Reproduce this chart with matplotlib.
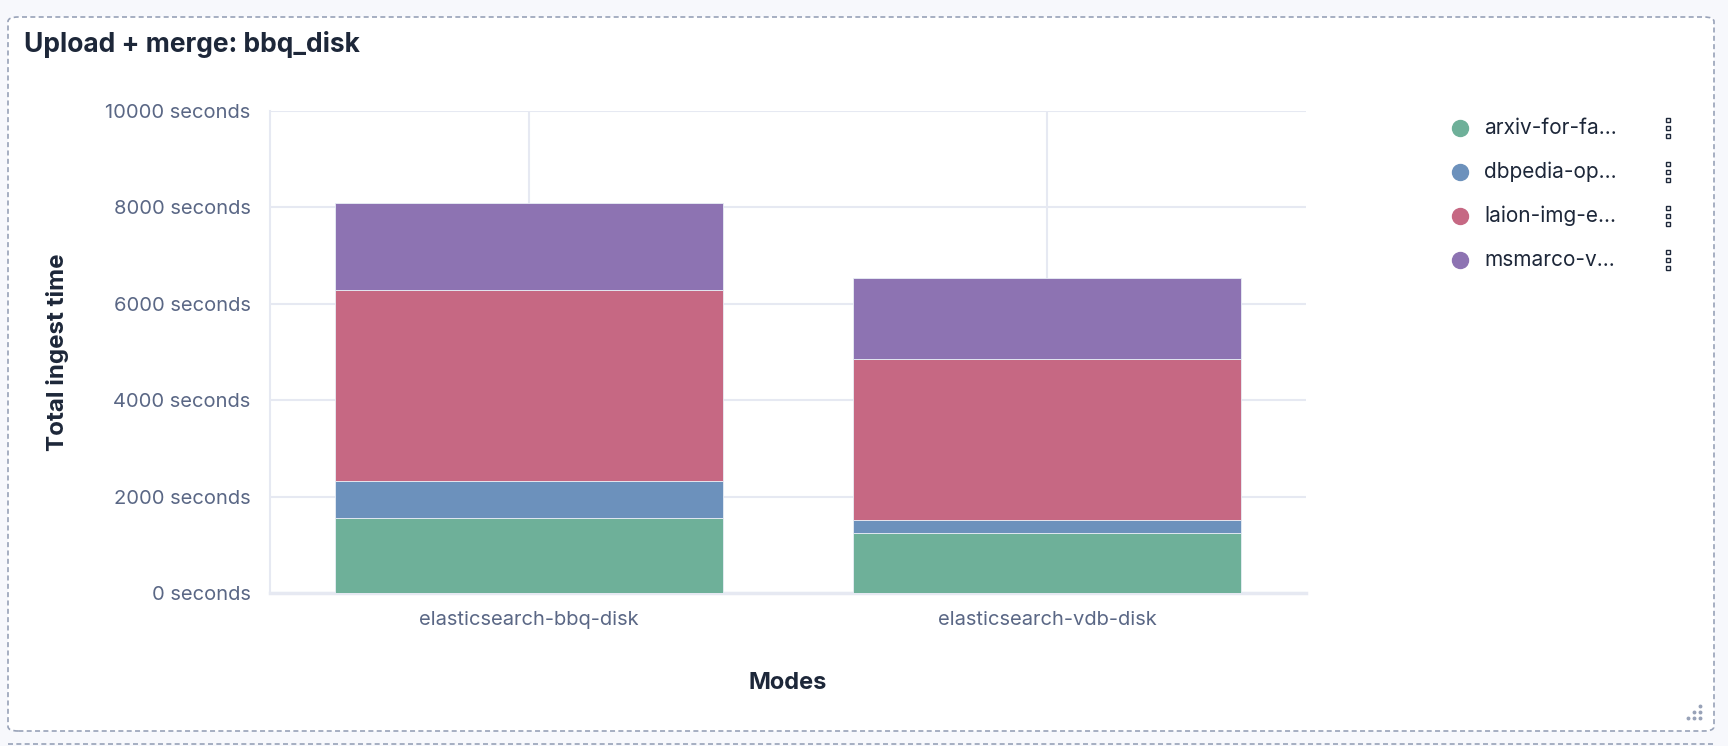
import numpy as np
import matplotlib
matplotlib.use("Agg")
import matplotlib.pyplot as plt
from matplotlib.patches import FancyBboxPatch
from matplotlib.lines import Line2D
from matplotlib.ticker import FuncFormatter

plt.rcParams['font.family'] = ['Inter', 'DejaVu Sans']

#Data
modes = ['elasticsearch-bbq-disk', 'elasticsearch-vdb-disk']
series_labels = ['arxiv-for-fa\u2026', 'dbpedia-op\u2026', 'laion-img-e\u2026', 'msmarco-v\u2026']
arxiv = [1558, 1247]
dbpedia = [770, 277]
laion = [3967, 3337]
msmarco = [1794, 1676]
yticks = [0, 2000, 4000, 6000, 8000, 10000]

colors = ['#6eb099', '#6c91bc', '#c66883', '#8d73b2']
grid_c = '#e6e9f2'
tick_c = '#5a6785'
dark_c = '#1d2739'

W, H = 1728, 746
fig = plt.figure(figsize=(W/100, H/100), dpi=100, facecolor='#f7f8fc')

#Panel with dashed border (kept behind the axes)
panel = FancyBboxPatch((8/W, 1-731/H), (1714-8)/W, (731-17)/H,
                       boxstyle="round,pad=0,rounding_size=0.006",
                       transform=fig.transFigure, facecolor='white',
                       edgecolor='#98a2b8', linestyle=(0, (3, 2)), linewidth=1.2,
                       zorder=-10)
fig.add_artist(panel)
fig.add_artist(Line2D([8/W, 1714/W], [1-744/H, 1-744/H], transform=fig.transFigure,
                      color='#98a2b8', linestyle=(0, (3, 2)), linewidth=1.2, zorder=-10))

ax = fig.add_axes([270/W, 1-593/H, (1306-270)/W, (593-111)/H])
ax.set_facecolor('white')

x = np.arange(len(modes))
bottom = np.zeros(len(modes))
for vals, lab, c in zip([arxiv, dbpedia, laion, msmarco], series_labels, colors):
    ax.bar(x, vals, width=0.75, bottom=bottom, color=c, edgecolor='#e8eef5',
           linewidth=0.6, label=lab, zorder=3)
    bottom += np.array(vals)

ax.set_xlim(-0.5, 1.5)
ax.set_ylim(0, 10000)
ax.set_yticks(yticks)
ax.yaxis.set_major_formatter(FuncFormatter(lambda v, p: f"{int(v)} seconds"))
ax.set_xticks(x)
ax.set_xticklabels(modes)
ax.tick_params(axis='both', length=0, colors=tick_c, labelsize=14.5)
ax.tick_params(axis='y', pad=14)
ax.tick_params(axis='x', pad=13)
ax.grid(True, color=grid_c, linewidth=1.5, zorder=0)
for s in ['top', 'right']:
    ax.spines[s].set_visible(False)
ax.spines['left'].set_color(grid_c)
ax.spines['left'].set_linewidth(1.5)
ax.spines['bottom'].set_color(grid_c)
ax.spines['bottom'].set_linewidth(2.5)

ax.set_ylabel("Total ingest time", fontsize=17.4, fontweight='bold', color=dark_c)
ax.yaxis.set_label_coords((69-270)/(1306-270), 0.5)
ax.set_xlabel("Modes", fontsize=17, fontweight='bold', color=dark_c)
ax.xaxis.set_label_coords(0.5, -79/(593-111))

fig.text(24/W, 1-44/H, "Upload + merge: bbq_disk", fontsize=19, fontweight='bold',
         color=dark_c, ha='left', va='center')

#Legend drawn by hand
rows = [128, 172, 216, 260]
for lab, c, ry in zip(series_labels, colors, rows):
    fig.add_artist(Line2D([1460/W], [1-ry/H], transform=fig.transFigure, marker='o',
                          markersize=11.5, color=c, linestyle='none'))
    fig.text(1484/W, 1-ry/H, lab, fontsize=15, color=dark_c, ha='left', va='center')
    fig.add_artist(Line2D([1668/W]*3, [1-(ry-8)/H, 1-ry/H, 1-(ry+8)/H],
                          transform=fig.transFigure, marker='s', markersize=3.2,
                          markerfacecolor='white', markeredgecolor=dark_c,
                          markeredgewidth=1.0, linestyle='none'))

#Resize handle
hx = [1700, 1700, 1700, 1694, 1694, 1688]
hy = [706, 712, 718, 712, 718, 718]
fig.add_artist(Line2D([v/W for v in hx], [1-v/H for v in hy], transform=fig.transFigure,
                      marker='o', markersize=1.8, color='#98a2b8', linestyle='none'))

fig.savefig("out.png", dpi=100, facecolor=fig.get_facecolor())
